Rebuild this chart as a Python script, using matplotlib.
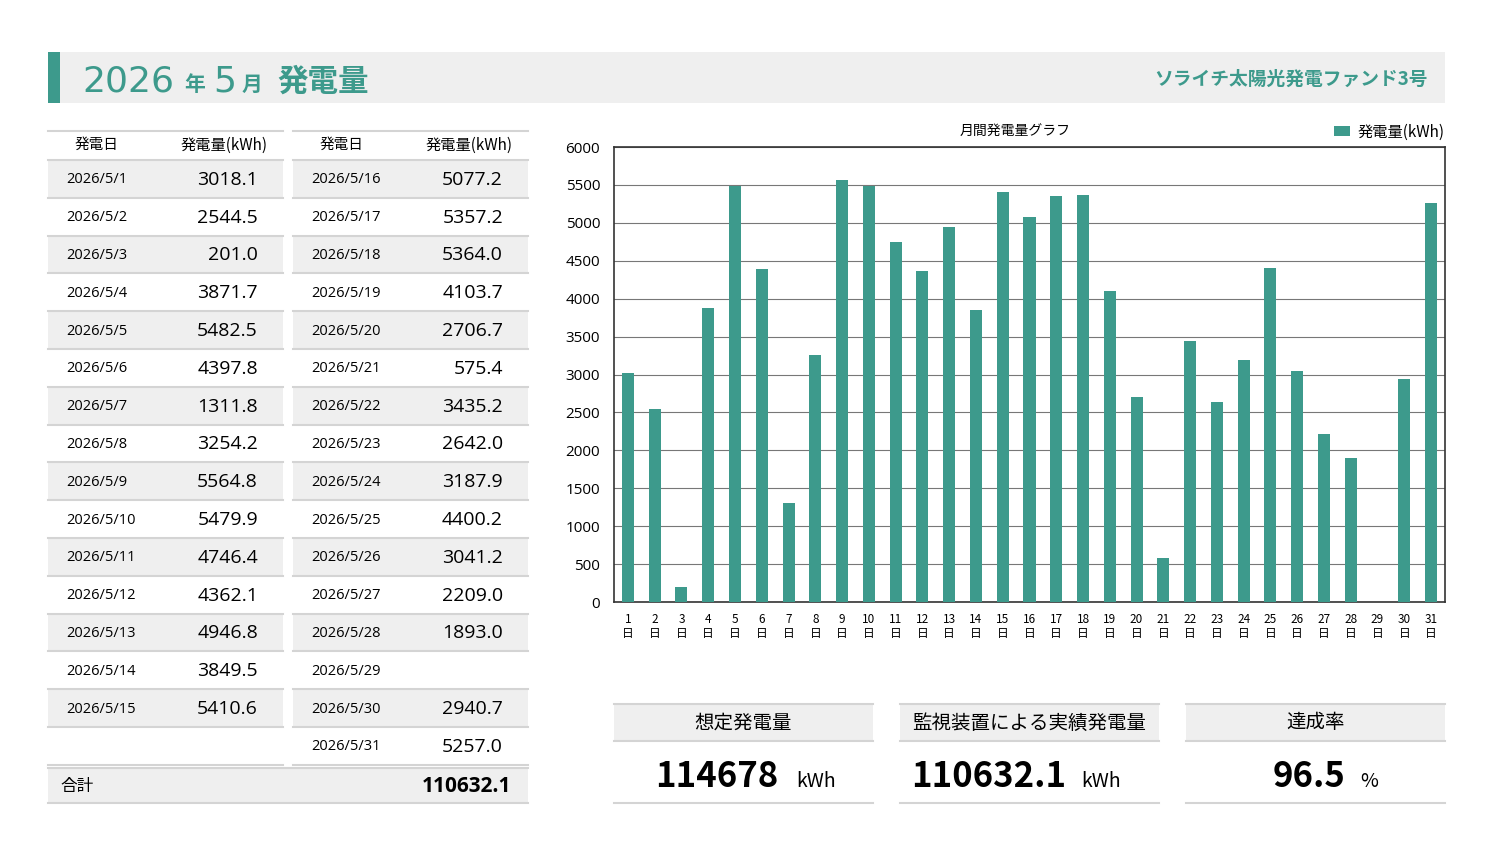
import numpy as np
import matplotlib.pyplot as plt
from matplotlib import font_manager
from matplotlib.patches import Rectangle

plt.rcParams['font.family'] = ['Noto Sans CJK JP', 'DejaVu Sans']

# data
days = list(range(1, 32))
dates = [f"2026/5/{d}" for d in days]
energy = [3018.1, 2544.5, 201.0, 3871.7, 5482.5, 4397.8, 1311.8, 3254.2,
          5564.8, 5479.9, 4746.4, 4362.1, 4946.8, 3849.5, 5410.6, 5077.2,
          5357.2, 5364.0, 4103.7, 2706.7, 575.4, 3435.2, 2642.0, 3187.9,
          4400.2, 3041.2, 2209.0, 1893.0, np.nan, 2940.7, 5257.0]
expected_total = 114678
actual_total = 110632.1
achievement = 96.5

TEAL = '#3d9a8c'
GRAY = '#efefef'
LINE = '#d4d4d4'
NUMFONT = ['Open Sans', 'Noto Sans CJK JP']
installed = {f.name for f in font_manager.fontManager.ttflist}
NARROW = ['Liberation Sans Narrow'] if 'Liberation Sans Narrow' in installed else ['Noto Sans CJK JP']

fig = plt.figure(figsize=(15, 8.66), dpi=100)
bg = fig.add_axes([0, 0, 1, 1])
bg.set_xlim(0, 1500)
bg.set_ylim(866, 0)
bg.axis('off')

# header band
bg.add_patch(Rectangle((48, 52), 1397, 51, color=GRAY, lw=0))
bg.add_patch(Rectangle((48, 52), 12, 51, color=TEAL, lw=0))
title_parts = [(82, '2026', 26, ['DejaVu Sans'], 'normal'),
               (184, '年', 15, ['Noto Sans CJK JP'], 'bold'),
               (213, '5', 26, ['DejaVu Sans'], 'normal'),
               (242, '月', 15, ['Noto Sans CJK JP'], 'bold'),
               (277, '発電量', 22, ['Noto Sans CJK JP'], 'bold')]
for x, s, size, fam, w in title_parts:
    bg.text(x, 91, s, color=TEAL, fontsize=size, ha='left', va='baseline',
            family=fam, fontweight=w)
bg.text(1428, 79, 'ソライチ太陽光発電ファンド3号', color=TEAL, fontsize=13.5,
        fontweight='bold', ha='right', va='center')

# table
row_h = 37.8
top = 160
blocks = [(48, days[:15]), (293, days[15:])]
for bx, block_days in blocks:
    bw = 235
    bg.plot([bx, bx + bw], [131, 131], color=LINE, lw=1.5)
    bg.text(bx + 48, 145, '発電日', fontsize=10.5, ha='center', va='center')
    bg.text(bx + 176, 145, '発電量(kWh)', fontsize=11, ha='center', va='center')
    for k in range(16):
        y0 = top + k * row_h
        if k % 2 == 0:
            bg.add_patch(Rectangle((bx, y0), bw, row_h, color=GRAY, lw=0))
        bg.plot([bx, bx + bw], [y0, y0], color=LINE, lw=1.5)
        if k < len(block_days):
            d = block_days[k]
            v = energy[d - 1]
            bg.text(bx + 18, y0 + row_h / 2 + 1, dates[d - 1], fontsize=10.5,
                    ha='left', va='center', family=NUMFONT)
            if not np.isnan(v):
                bg.text(bx + 210, y0 + row_h / 2 + 1, f"{v:.1f}", fontsize=14,
                        ha='right', va='center', family=NUMFONT)
    bg.plot([bx, bx + bw], [top + 16 * row_h, top + 16 * row_h], color=LINE, lw=1.5)

bg.add_patch(Rectangle((48, 768), 480, 35, color=GRAY, lw=0))
bg.plot([48, 528], [768, 768], color=LINE, lw=1.5)
bg.plot([48, 528], [803, 803], color=LINE, lw=1.5)
bg.text(60, 786, '合計', fontsize=12, ha='left', va='center')
bg.text(511, 787, f"{actual_total:.1f}", fontsize=15, fontweight='bold',
        ha='right', va='center', family=NUMFONT)

# summary boxes: left edge, label, value, unit, value right edge, unit left edge
boxes = [(614, '想定発電量', f"{expected_total}", 'kWh', 778, 796),
         (900, '監視装置による実績発電量', f"{actual_total:.1f}", 'kWh', 1066, 1081),
         (1186, '達成率', f"{achievement:.1f}", '%', 1345, 1360)]
for bx, label, val, unit, vr, ul in boxes:
    bw = 259
    bg.add_patch(Rectangle((bx, 704), bw, 37, color=GRAY, lw=0))
    bg.plot([bx, bx + bw], [704, 704], color=LINE, lw=1.5)
    bg.plot([bx, bx + bw], [741, 741], color=LINE, lw=1.5)
    bg.plot([bx, bx + bw], [803, 803], color=LINE, lw=1.5)
    bg.text(bx + bw / 2, 723, label, fontsize=14, ha='center', va='center')
    bg.text(vr, 787, val, fontsize=25, fontweight='bold',
            ha='right', va='baseline', family=NARROW)
    bg.text(ul, 787, unit, fontsize=14, ha='left', va='baseline', family=NARROW)

# chart
ax = fig.add_axes([614 / 1500, (866 - 602) / 866, 831 / 1500, 455 / 866])
ax.bar(days, energy, width=0.45, color=TEAL, label='発電量(kWh)', zorder=3)
ax.set_xlim(0.48, 31.52)
ax.set_ylim(0, 6000)
ax.set_yticks(range(0, 6001, 500))
ax.set_xticks(days)
ax.set_xticklabels([f"{d}\n日" for d in days], fontsize=8.5, linespacing=1.1)
ax.tick_params(axis='y', labelsize=11, length=0, pad=10)
ax.tick_params(axis='x', length=0, pad=8)
for lab in ax.get_yticklabels():
    lab.set_family(NUMFONT)
ax.grid(axis='y', color='#777777', lw=0.8, zorder=0)
for s in ax.spines.values():
    s.set_color('#333333')
    s.set_linewidth(1.2)
ax.text(0.4826, 1 + 15 / 455, '月間発電量グラフ', transform=ax.transAxes,
        fontsize=10, ha='center', va='center')
ax.legend(loc='center right', bbox_to_anchor=(1.0, 1 + 15 / 455), frameon=False,
          fontsize=11, handlelength=1.05, handleheight=0.65, borderaxespad=0,
          handletextpad=0.5, borderpad=0)

fig.savefig('out.png', dpi=100)
